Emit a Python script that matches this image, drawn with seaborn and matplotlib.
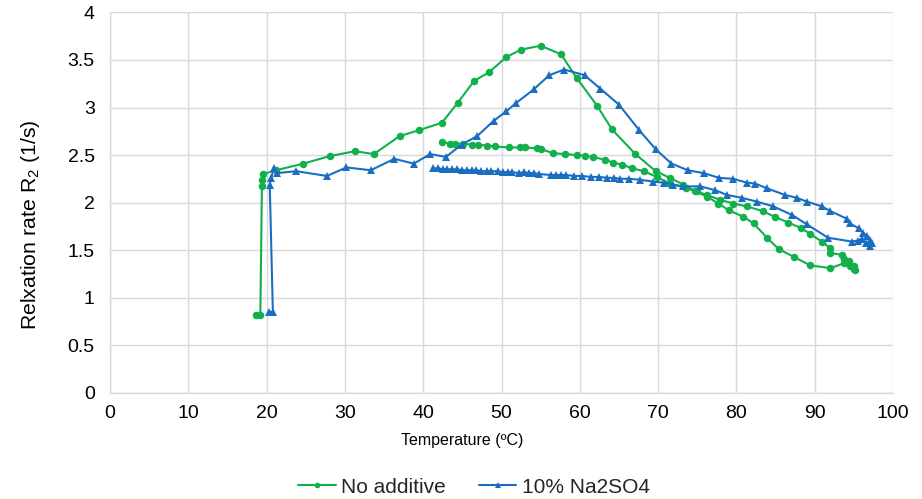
import matplotlib
matplotlib.use("Agg")
import matplotlib.pyplot as plt
import seaborn as sns
import pandas as pd

# ---- data ----
green_T = [18.7, 19.2, 19.4, 19.4, 19.5, 21.2, 24.7, 28.1, 31.3, 33.7, 37.0, 39.4, 42.4, 44.4,
           46.5, 48.4, 50.6, 52.5, 55.0, 57.6, 59.6, 62.2, 64.1, 67.1, 69.7, 71.5, 73.2, 74.7,
           76.3, 77.7, 79.0, 80.9, 82.2, 83.9, 85.4, 87.3, 89.4, 92.0, 93.7, 94.5, 95.0, 95.2,
           95.0, 94.4, 93.7, 93.5, 92.0, 92.0, 90.9, 89.4, 88.3, 86.6, 84.9, 83.4, 81.3, 79.6,
           77.9, 76.2, 74.9, 73.6, 71.5, 69.8, 68.2, 66.7, 65.4, 64.3, 63.2, 61.7, 60.7, 59.6,
           58.1, 56.6, 55.1, 54.5, 53.0, 52.4, 50.9, 49.2, 48.1, 47.0, 46.2, 45.1, 44.1, 43.4, 42.4]
green_R = [0.82, 0.82, 2.17, 2.24, 2.30, 2.34, 2.41, 2.49, 2.54, 2.51, 2.70, 2.76, 2.84, 3.05,
           3.28, 3.37, 3.53, 3.61, 3.65, 3.56, 3.31, 3.02, 2.77, 2.51, 2.33, 2.26, 2.19, 2.12,
           2.06, 1.99, 1.92, 1.85, 1.78, 1.63, 1.51, 1.43, 1.34, 1.31, 1.36, 1.33, 1.30, 1.29,
           1.33, 1.38, 1.41, 1.45, 1.47, 1.52, 1.59, 1.67, 1.73, 1.79, 1.85, 1.91, 1.96, 1.99,
           2.03, 2.08, 2.12, 2.15, 2.20, 2.27, 2.33, 2.36, 2.40, 2.42, 2.45, 2.48, 2.49, 2.50,
           2.51, 2.52, 2.56, 2.57, 2.58, 2.58, 2.58, 2.59, 2.60, 2.61, 2.61, 2.62, 2.62, 2.62, 2.64]

blue_T = [20.3, 20.8, 20.4, 20.6, 20.9, 21.3, 23.8, 27.7, 30.2, 33.3, 36.3, 38.8, 40.9, 42.9,
          44.9, 46.9, 49.0, 50.6, 51.9, 54.1, 56.1, 58.0, 60.6, 62.6, 65.0, 67.6, 69.7, 71.7,
          73.8, 75.8, 77.8, 79.6, 81.3, 82.4, 83.9, 86.2, 87.7, 89.0, 90.9, 92.0, 94.1, 94.5,
          95.6, 96.2, 96.7, 97.1, 97.3, 97.0, 96.5, 96.0, 95.5, 94.7, 91.7, 89.0, 87.1, 84.7,
          82.6, 80.7, 78.8, 77.3, 75.4, 73.2, 71.9, 70.7, 69.4, 67.7, 66.3, 65.1, 64.4, 63.5,
          62.5, 61.4, 60.3, 59.3, 58.2, 57.6, 56.9, 56.3, 54.8, 54.1, 53.5, 52.9, 52.2, 51.4,
          50.8, 50.2, 49.5, 48.7, 48.1, 47.4, 46.8, 46.2, 45.6, 45.0, 44.3, 43.7, 43.1, 42.5,
          41.9, 41.3]
blue_R = [0.85, 0.85, 2.19, 2.26, 2.36, 2.31, 2.33, 2.28, 2.37, 2.34, 2.46, 2.41, 2.51, 2.48,
          2.61, 2.70, 2.86, 2.96, 3.05, 3.19, 3.34, 3.40, 3.34, 3.20, 3.03, 2.76, 2.56, 2.41,
          2.34, 2.31, 2.26, 2.25, 2.21, 2.20, 2.15, 2.08, 2.05, 2.01, 1.96, 1.91, 1.83, 1.78,
          1.73, 1.68, 1.65, 1.61, 1.57, 1.54, 1.57, 1.62, 1.60, 1.59, 1.63, 1.77, 1.87, 1.96,
          2.01, 2.05, 2.08, 2.13, 2.17, 2.17, 2.19, 2.21, 2.22, 2.24, 2.25, 2.25, 2.26, 2.26,
          2.27, 2.27, 2.28, 2.28, 2.29, 2.29, 2.29, 2.29, 2.30, 2.31, 2.31, 2.32, 2.31, 2.32,
          2.32, 2.32, 2.33, 2.33, 2.33, 2.33, 2.34, 2.34, 2.34, 2.34, 2.35, 2.35, 2.35, 2.35,
          2.36, 2.36]

series_names = ["No additive", "10% Na2SO4"]
x_ticks = [0, 10, 20, 30, 40, 50, 60, 70, 80, 90, 100]
y_ticks = [0, 0.5, 1, 1.5, 2, 2.5, 3, 3.5, 4]
y_tick_labels = ["0", "0.5", "1", "1.5", "2", "2.5", "3", "3.5", "4"]

GREEN = "#12B04C"
BLUE = "#1A6EC2"

sns.set_theme(style="white")
plt.rcParams["font.family"] = ["Liberation Sans", "DejaVu Sans"]
plt.rcParams["mathtext.fontset"] = "custom"
plt.rcParams["mathtext.rm"] = "Liberation Sans"
plt.rcParams["mathtext.it"] = "Liberation Sans:italic"

fig = plt.figure(figsize=(9.22, 4.99), dpi=100)
ax = fig.add_axes([0.1193, 0.2131, 0.8493, 0.7619])

df_g = pd.DataFrame({"T": green_T, "R": green_R})
df_b = pd.DataFrame({"T": blue_T, "R": blue_R})

sns.lineplot(data=df_g, x="T", y="R", sort=False, estimator=None, ax=ax,
             color=GREEN, linewidth=1.5, marker="o", markersize=5.4,
             markeredgewidth=0, label=series_names[0])
sns.lineplot(data=df_b, x="T", y="R", sort=False, estimator=None, ax=ax,
             color=BLUE, linewidth=1.5, marker="^", markersize=5.8,
             markeredgewidth=0, label=series_names[1])

ax.set_xlim(0, 100)
ax.set_ylim(0, 4)
ax.set_xticks(x_ticks)
ax.set_xticklabels([str(t) for t in x_ticks])
ax.set_yticks(y_ticks)
ax.set_yticklabels(y_tick_labels)
ax.grid(True, color="#D9D9D9", linewidth=1.0)
ax.set_axisbelow(True)
for s in ["top", "right"]:
    ax.spines[s].set_visible(False)
for s in ["left", "bottom"]:
    ax.spines[s].set_color("#D9D9D9")
    ax.spines[s].set_linewidth(1.0)
ax.tick_params(axis="both", length=0, labelsize=14, colors="#000000")
ax.tick_params(axis="y", pad=11)
ax.tick_params(axis="x", pad=9)

ax.set_xlabel("Temperature (ºC)", fontsize=11.5, color="#000000")
ax.xaxis.set_label_coords(0.45, -0.106)
ax.set_ylabel("Relxation rate R$_\\mathregular{2}$ (1/s)", fontsize=15.3,
              color="#000000")
ax.yaxis.label.set_va("center")
ax.yaxis.set_label_coords(-0.102, 0.441)

ax.get_legend().remove()
h, l = ax.get_legend_handles_labels()
fig.legend(h, l, loc="center", bbox_to_anchor=(0.514, 0.024), ncol=2,
           frameon=False, fontsize=15, handlelength=1.8, columnspacing=1.6,
           markerscale=0.75, handletextpad=0.25)

fig.savefig("out.png", dpi=100)
